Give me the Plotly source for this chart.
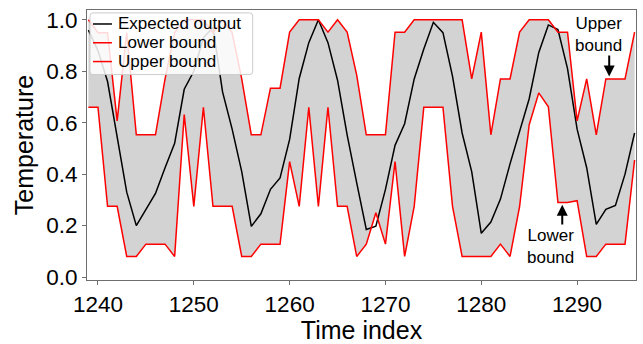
import plotly.graph_objects as go

time_index = list(range(1239, 1297))

expected_output = [
    0.96, 0.88, 0.76, 0.55, 0.33, 0.20, 0.26, 0.325, 0.425, 0.52,
    0.73, 0.80, 0.93, 0.97, 0.72, 0.575, 0.41, 0.197, 0.246, 0.341,
    0.385, 0.535, 0.772, 0.911, 1.0, 0.911, 0.765, 0.553, 0.366, 0.185,
    0.198, 0.341, 0.512, 0.596, 0.77, 0.886, 0.99, 0.95, 0.78, 0.56,
    0.41, 0.17, 0.214, 0.303, 0.44, 0.565, 0.693, 0.873, 0.98, 0.962,
    0.81, 0.575, 0.425, 0.205, 0.263, 0.278, 0.40, 0.56,
]

lower_bound = [
    0.66, 0.66, 0.275, 0.275, 0.08, 0.08, 0.128, 0.128, 0.128, 0.08,
    0.632, 0.275, 0.66, 0.275, 0.275, 0.275, 0.08, 0.08, 0.128, 0.128,
    0.128, 0.449, 0.275, 0.66, 0.275, 0.66, 0.275, 0.275, 0.08, 0.128,
    0.25, 0.128, 0.449, 0.08, 0.275, 0.66, 0.66, 0.66, 0.275, 0.08,
    0.08, 0.08, 0.08, 0.128, 0.08, 0.275, 0.592, 0.716, 0.662, 0.29,
    0.29, 0.297, 0.08, 0.08, 0.128, 0.128, 0.128, 0.455,
]

upper_bound = [
    1.0, 0.95, 0.95, 0.607, 0.95, 0.553, 0.553, 0.553, 0.77, 0.95,
    1.0, 1.0, 1.0, 0.95, 1.0, 0.95, 0.77, 0.553, 0.553, 0.734,
    0.734, 0.952, 1.0, 1.0, 1.0, 0.952, 1.0, 0.952, 0.785, 0.553,
    0.553, 0.553, 0.952, 0.952, 1.0, 1.0, 1.0, 1.0, 1.0, 1.0,
    0.77, 0.952, 0.553, 0.77, 0.77, 0.952, 1.0, 1.0, 1.0, 0.952,
    0.952, 0.607, 0.77, 0.553, 0.77, 0.77, 0.77, 0.952,
]

series_names = ["Expected output", "Lower bound", "Upper bound"]
series_colors = ["#000000", "#ff0000", "#ff0000"]

x_ticks = [1240, 1250, 1260, 1270, 1280, 1290]
y_ticks = [0.0, 0.2, 0.4, 0.6, 0.8, 1.0]

FONT = "Liberation Sans, Arial, sans-serif"

W, H = 643, 344
ML, MR, MT, MB = 87, 6, 10, 58
PW, PH = W - ML - MR, H - MT - MB


def px_x(p):  # pixel -> paper x
    return (p - ML) / PW


def px_y(p):  # pixel -> paper y
    return (H - MB - p) / PH


fig = go.Figure()

# grey band between the bounds
fig.add_trace(go.Scatter(x=time_index, y=lower_bound, mode="lines",
                         line=dict(width=0, color="rgba(0,0,0,0)"),
                         showlegend=False, hoverinfo="skip"))
fig.add_trace(go.Scatter(x=time_index, y=upper_bound, mode="lines",
                         line=dict(width=0, color="rgba(0,0,0,0)"),
                         fill="tonexty", fillcolor="#d3d3d3",
                         showlegend=False, hoverinfo="skip"))

fig.add_trace(go.Scatter(x=time_index, y=expected_output, mode="lines",
                         name=series_names[0], showlegend=False,
                         line=dict(color=series_colors[0], width=1.5)))
fig.add_trace(go.Scatter(x=time_index, y=lower_bound, mode="lines",
                         name=series_names[1], showlegend=False,
                         line=dict(color=series_colors[1], width=1.5)))
fig.add_trace(go.Scatter(x=time_index, y=upper_bound, mode="lines",
                         name=series_names[2], showlegend=False,
                         line=dict(color=series_colors[2], width=1.5)))

# hand-built legend (matplotlib-style compact box)
bx0, bx1, by0, by1, r = 90, 253, 13, 76, 3
x0, x1 = px_x(bx0), px_x(bx1)
y0, y1 = px_y(by0), px_y(by1)
rx, ry = r / PW, r / PH
path = (f"M {x0+rx},{y0} L {x1-rx},{y0} Q {x1},{y0} {x1},{y0-ry} "
        f"L {x1},{y1+ry} Q {x1},{y1} {x1-rx},{y1} L {x0+rx},{y1} "
        f"Q {x0},{y1} {x0},{y1+ry} L {x0},{y0-ry} Q {x0},{y0} {x0+rx},{y0} Z")
fig.add_shape(type="path", path=path, xref="paper", yref="paper",
              fillcolor="rgba(255,255,255,0.85)", line=dict(color="#cccccc", width=1),
              layer="above")
row_y = [24.3, 43.5, 62.7]
for name, color, yy in zip(series_names, series_colors, row_y):
    fig.add_shape(type="line", xref="paper", yref="paper",
                  x0=px_x(93), x1=px_x(112), y0=px_y(yy), y1=px_y(yy),
                  line=dict(color=color, width=1.5), layer="above")
    fig.add_annotation(x=px_x(117), y=px_y(yy), xref="paper", yref="paper",
                       text=name, showarrow=False, xanchor="left", yanchor="middle",
                       borderpad=0,
                       font=dict(size=17, color="black", family=FONT))

# text labels and arrows
fig.add_annotation(x=1292.25, y=0.943, xref="x", yref="y", text="Upper<br>bound",
                   showarrow=False, font=dict(size=17, color="black", family=FONT))
fig.add_annotation(x=1293.35, y=0.78, ax=1293.35, ay=0.867, xref="x", yref="y",
                   axref="x", ayref="y", text="", showarrow=True,
                   arrowhead=2, arrowsize=1.1, arrowwidth=2, arrowcolor="black")
fig.add_annotation(x=1287.2, y=0.118, xref="x", yref="y", text="Lower<br>bound",
                   showarrow=False, font=dict(size=17, color="black", family=FONT))
fig.add_annotation(x=1288.45, y=0.281, ax=1288.45, ay=0.198, xref="x", yref="y",
                   axref="x", ayref="y", text="", showarrow=True,
                   arrowhead=2, arrowsize=1.1, arrowwidth=2, arrowcolor="black")

axis_common = dict(showline=True, linecolor="#6e6e6e", linewidth=1, mirror=True,
                   ticks="outside", ticklen=4, tickcolor="#6e6e6e",
                   showgrid=False, zeroline=False,
                   tickfont=dict(size=22.5, color="black", family=FONT))

fig.update_xaxes(range=[1238.854, 1296.146], tickvals=x_ticks,
                 title=dict(text="Time index", font=dict(size=25, color="black", family=FONT),
                            standoff=3),
                 **axis_common)
fig.update_yaxes(range=[-0.0114, 1.038], tickvals=y_ticks, tickformat=".1f",
                 title=dict(text="Temperature", font=dict(size=25, color="black", family=FONT),
                            standoff=5),
                 **axis_common)

fig.update_layout(
    width=W, height=H,
    margin=dict(l=ML, r=MR, t=MT, b=MB),
    paper_bgcolor="white", plot_bgcolor="white",
    font=dict(family=FONT, color="black"),
    showlegend=False,
)

fig.write_html("out.html")
